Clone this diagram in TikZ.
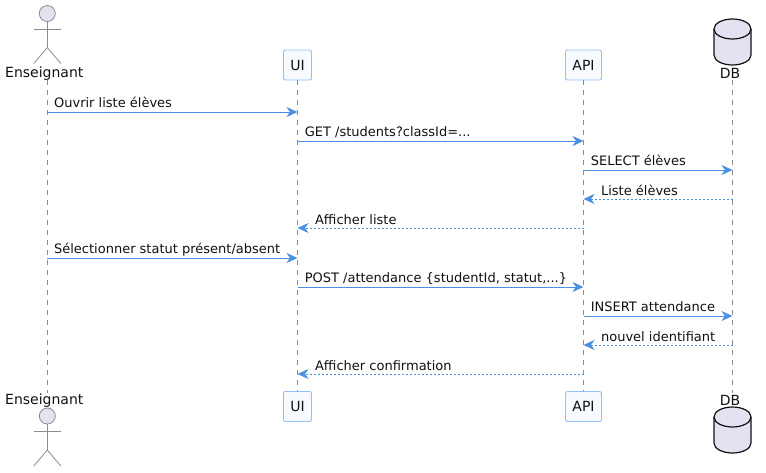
\documentclass[tikz,border=0pt]{standalone}
\usepackage{fontspec}
\setmainfont{DejaVu Sans}
\usetikzlibrary{arrows.meta, positioning}

\definecolor{msgblue}{HTML}{4A90E2}
\definecolor{boxline}{HTML}{92C0F6}
\definecolor{boxfill}{HTML}{F7FBFF}
\definecolor{actorfill}{HTML}{E2E2F0}
\definecolor{lifegray}{HTML}{8C8C8C}
\definecolor{textdark}{HTML}{111111}

\tikzset{
    partbox/.style={draw=boxline, fill=boxfill, rounded corners=2pt, line width=0.9pt, text=textdark, font=\fontsize{14}{16}\selectfont, minimum height=30pt, inner sep=0pt},
    partname/.style={text=textdark, font=\fontsize{14}{16}\selectfont, minimum height=14pt, inner sep=0pt},
    actorline/.style={draw=lifegray, line width=0.8pt},
    drumline/.style={draw=textdark, fill=actorfill, line width=1.2pt},
    lifeline/.style={draw=lifegray, line width=0.8pt, dash pattern=on 5pt off 5pt},
    callmsg/.style={draw=msgblue, line width=1pt, -{Stealth[length=11pt, width=10pt, inset=3.5pt]}},
    replymsg/.style={draw=msgblue, line width=0.9pt, dash pattern=on 2pt off 2pt, -{Stealth[length=11pt, width=10pt, inset=3.5pt]}},
    msgtext/.style={text=textdark, font=\fontsize{13}{15}\selectfont, inner sep=0pt, anchor=base west}
}

% stick figure, head centre at #1,#2
\newcommand{\stickman}[2]{
    \draw[actorline, fill=actorfill] (#1,#2) circle (8);
    \draw[actorline] (#1,#2+8) -- (#1,#2+34) (#1-13.5,#2+15.5) -- (#1+13.5,#2+15.5);
    \draw[actorline] (#1-13.5,#2+50) -- (#1,#2+34) -- (#1+13.5,#2+50);
}
% drum, top edge at #2
\newcommand{\drum}[2]{
    \draw[drumline] (#1-18.5,#2+10) arc[start angle=180, end angle=360, x radius=18.5, y radius=10] -- (#1+18.5,#2+36) arc[start angle=0, end angle=180, x radius=18.5, y radius=10] -- cycle;
    \draw[drumline, fill=none] (#1-18.5,#2+10) arc[start angle=180, end angle=0, x radius=18.5, y radius=10];
}

\begin{document}
\begin{tikzpicture}[x=1pt, y=-1pt]
    \useasboundingbox (0,0) rectangle (766,472);

    % top row
    \node[partname] (ensTop) at (44.3,73.5) {Enseignant};
    \node[partbox, minimum width=28pt] (uiTop) at (297.5,65) {UI};
    \node[partbox, minimum width=36pt] (apiTop) at (583.5,65) {API};
    \node[partname] (dbTop) at (730,73.5) {DB};

    % bottom row
    \node[partname] (ensBot) at (44.3,400.5) {Enseignant};
    \node[partbox, minimum width=28pt] (uiBot) at (297.5,406.5) {UI};
    \node[partbox, minimum width=36pt] (apiBot) at (583.5,406.5) {API};
    \node[partname] (dbBot) at (730,400.5) {DB};

    \stickman{47.3}{13.5}
    \stickman{47.3}{416}
    \drum{732.5}{19}
    \drum{732.5}{407}

    % lifelines
    \draw[lifeline] (47.3,80) -- (47.3,393);
    \draw[lifeline] (uiTop) -- (uiBot);
    \draw[lifeline] (apiTop) -- (apiBot);
    \draw[lifeline] (732.5,80) -- (732.5,393);

    % one point per message on each lifeline
    \foreach \row/\ypos in {1/112,2/141,3/170,4/199,5/228,6/258,7/287,8/316,9/345,10/374} {
        \coordinate (ens\row) at (47.3,\ypos);
        \coordinate (ui\row) at (297.5,\ypos);
        \coordinate (api\row) at (583.5,\ypos);
        \coordinate (db\row) at (732.5,\ypos);
    }

    % messages
    \draw[callmsg] (ens1) -- (ui1);
    \node[msgtext] (txt1) at (53.9,107.7) {Ouvrir liste élèves};
    \draw[callmsg] (ui2) -- (api2);
    \node[msgtext] (txt2) at (304.6,136.7) {GET /students?classId=...};
    \draw[callmsg] (api3) -- (db3);
    \node[msgtext] (txt3) at (590.6,165.7) {SELECT élèves};
    \draw[replymsg] (db4) -- (api4);
    \node[msgtext] (txt4) at (600.9,195) {Liste élèves};
    \draw[replymsg] (api5) -- (ui5);
    \node[msgtext] (txt5) at (314.9,224) {Afficher liste};
    \draw[callmsg] (ens6) -- (ui6);
    \node[msgtext] (txt6) at (53.9,253.7) {Sélectionner statut présent/absent};
    \draw[callmsg] (ui7) -- (api7);
    \node[msgtext] (txt7) at (304.6,282.7) {POST /attendance \{studentId, statut,...\}};
    \draw[callmsg] (api8) -- (db8);
    \node[msgtext] (txt8) at (590.6,311.7) {INSERT attendance};
    \draw[replymsg] (db9) -- (api9);
    \node[msgtext] (txt9) at (600.9,341) {nouvel identifiant};
    \draw[replymsg] (api10) -- (ui10);
    \node[msgtext] (txt10) at (314.9,370) {Afficher confirmation};
\end{tikzpicture}
\end{document}
